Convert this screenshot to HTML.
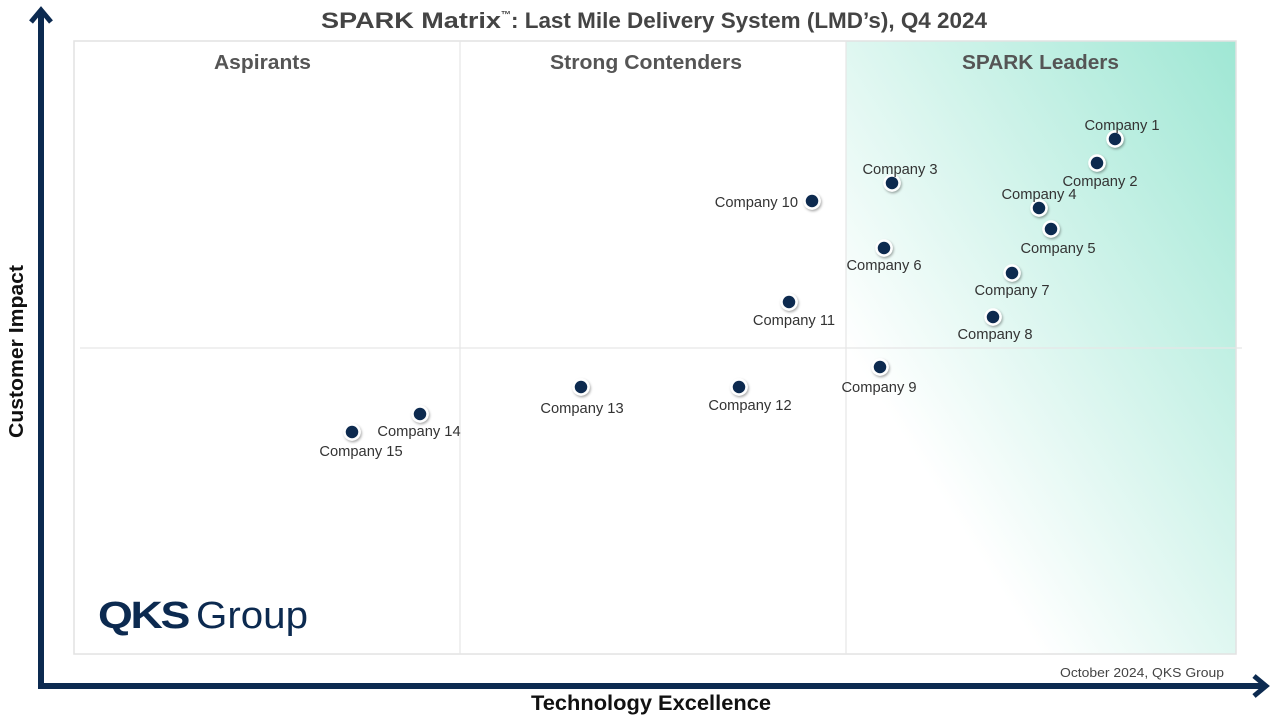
<!DOCTYPE html>
<html><head><meta charset="utf-8"><style>
html,body{margin:0;padding:0;background:#fff;}
svg{display:block;font-family:"Liberation Sans",Arial,sans-serif;}
</style></head><body>
<svg width="1280" height="720" viewBox="0 0 1280 720">
<defs>
<linearGradient id="g" x1="0" y1="1" x2="1" y2="0">
<stop offset="0.25" stop-color="#ffffff"/>
<stop offset="1" stop-color="#9fe7d4"/>
</linearGradient>
<filter id="sh" x="-50%" y="-50%" width="200%" height="200%"><feDropShadow dx="1" dy="1.5" stdDeviation="1.2" flood-color="#000" flood-opacity="0.35"/></filter>
</defs>
<rect x="846" y="41" width="390" height="613" fill="url(#g)"/>
<rect x="74" y="41" width="1162" height="613" fill="none" stroke="#e2e2e2" stroke-width="1.5"/>
<line x1="460" y1="41" x2="460" y2="654" stroke="#e6e6e6" stroke-width="1.2"/>
<line x1="846" y1="41" x2="846" y2="654" stroke="#e6e6e6" stroke-width="1.2"/>
<line x1="80" y1="348" x2="1242" y2="348" stroke="#e6e6e6" stroke-width="1.2"/>
<text x="321" y="28" font-size="22" font-weight="bold" fill="#444"><tspan textLength="180" lengthAdjust="spacingAndGlyphs">SPARK Matrix</tspan><tspan font-size="10" dy="-10">™</tspan><tspan dy="10" textLength="476" lengthAdjust="spacingAndGlyphs">: Last Mile Delivery System (LMD’s), Q4 2024</tspan></text>
<g font-size="20" font-weight="bold" fill="#555">
<text x="214" y="69" textLength="97" lengthAdjust="spacingAndGlyphs">Aspirants</text>
<text x="550" y="69" textLength="192" lengthAdjust="spacingAndGlyphs">Strong Contenders</text>
<text x="962" y="69" textLength="157" lengthAdjust="spacingAndGlyphs">SPARK Leaders</text>
</g>
<g stroke="#0c2a50" stroke-width="6" fill="none">
<line x1="41" y1="12" x2="41" y2="689"/>
<line x1="38" y1="686" x2="1264" y2="686"/>
<polyline points="31,22 41,10 51,22" stroke-width="5"/>
<polyline points="1254,676 1266,686 1254,696" stroke-width="5"/>
</g>
<text x="531" y="710" font-size="21" font-weight="bold" fill="#111" textLength="240" lengthAdjust="spacingAndGlyphs">Technology Excellence</text>
<text transform="translate(23,438) rotate(-90)" font-size="20" font-weight="bold" fill="#111" textLength="173" lengthAdjust="spacingAndGlyphs">Customer Impact</text>
<text x="1060" y="677" font-size="13" fill="#444" textLength="164" lengthAdjust="spacingAndGlyphs">October 2024, QKS Group</text>
<text x="98" y="628" font-size="38" fill="#0c2a50"><tspan font-weight="bold" letter-spacing="-2" textLength="90" lengthAdjust="spacingAndGlyphs">QKS</tspan><tspan x="196" font-size="38" textLength="112" lengthAdjust="spacingAndGlyphs">Group</tspan></text>
<g fill="#0c2a50" stroke="#fff" stroke-width="2.5" filter="url(#sh)">
<circle cx="1115" cy="139" r="7.5"/><circle cx="1097" cy="163" r="7.5"/><circle cx="892" cy="183" r="7.5"/>
<circle cx="1039" cy="208" r="7.5"/><circle cx="1051" cy="229" r="7.5"/><circle cx="884" cy="248" r="7.5"/>
<circle cx="1012" cy="273" r="7.5"/><circle cx="993" cy="317" r="7.5"/><circle cx="880" cy="367" r="7.5"/>
<circle cx="812" cy="201" r="7.5"/><circle cx="789" cy="302" r="7.5"/><circle cx="739" cy="387" r="7.5"/>
<circle cx="581" cy="387" r="7.5"/><circle cx="420" cy="414" r="7.5"/><circle cx="352" cy="432" r="7.5"/>
</g>
<g font-size="14.7" fill="#333" text-anchor="middle">
<text x="1122" y="130">Company 1</text>
<text x="1100" y="186">Company 2</text>
<text x="900" y="174">Company 3</text>
<text x="1039" y="199">Company 4</text>
<text x="1058" y="253">Company 5</text>
<text x="884" y="270">Company 6</text>
<text x="1012" y="295">Company 7</text>
<text x="995" y="339">Company 8</text>
<text x="879" y="392">Company 9</text>
<text x="798" y="207" text-anchor="end">Company 10</text>
<text x="794" y="325">Company 11</text>
<text x="750" y="410">Company 12</text>
<text x="582" y="413">Company 13</text>
<text x="419" y="436">Company 14</text>
<text x="361" y="456">Company 15</text>
</g>
</svg>
</body></html>
